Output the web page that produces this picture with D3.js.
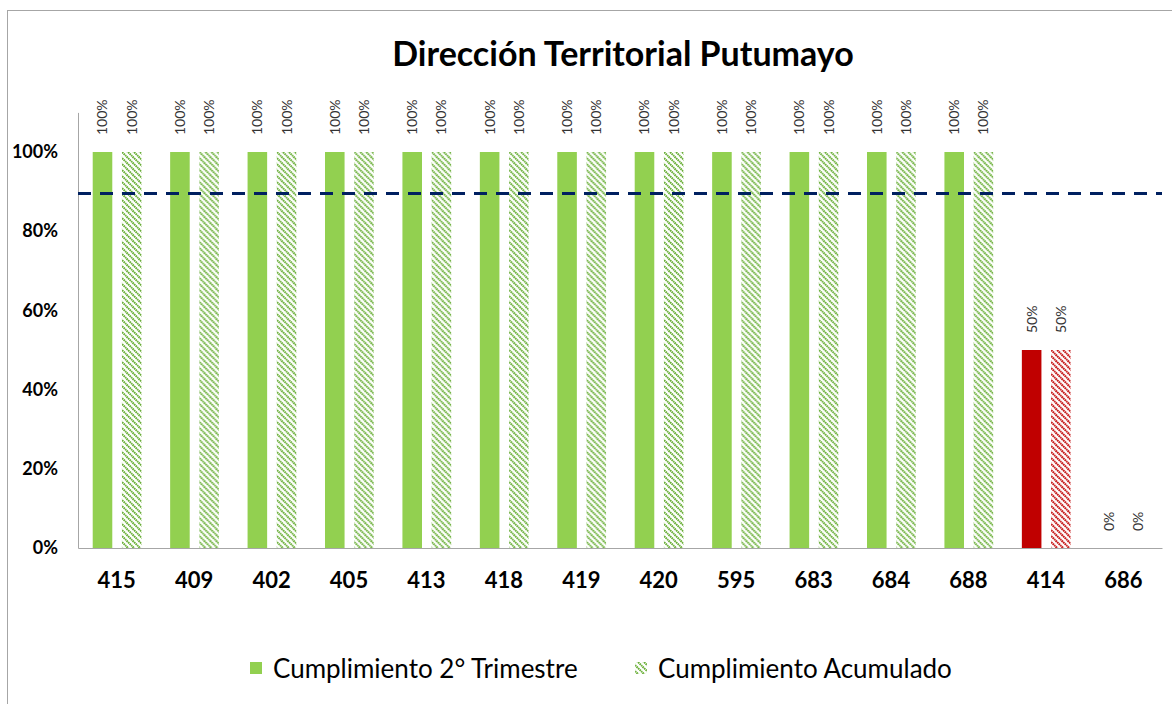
<!DOCTYPE html>
<html>
<head>
<meta charset="utf-8">
<script src="https://cdn.jsdelivr.net/npm/d3@7"></script>
<style>
  body { margin: 0; background: #fff; }
  text { font-family: Lato, "Open Sans", sans-serif; }
</style>
</head>
<body>
<svg width="1172" height="704"></svg>
<script>
var categories = ['415', '409', '402', '405', '413', '418', '419', '420', '595', '683', '684', '688', '414', '686']
var trimestre = [1, 1, 1, 1, 1, 1, 1, 1, 1, 1, 1, 1, 0.5, 0]
var acumulado = [1, 1, 1, 1, 1, 1, 1, 1, 1, 1, 1, 1, 0.5, 0]
var meta = 0.895
var yTicks = [0, 0.2, 0.4, 0.6, 0.8, 1]
var seriesNames = ['Cumplimiento 2° Trimestre', 'Cumplimiento Acumulado']

var svg = d3.select('svg')
var margin = { top: 111, left: 78, right: 10, bottom: 156 }

var green = '#92d050'
var greenHatch = '#66ad32'
var red = '#c00000'

// hatch patterns
var defs = svg.append('defs')
function hatch (id, color) {
  var p = defs.append('pattern')
    .attr('id', id)
    .attr('patternUnits', 'userSpaceOnUse')
    .attr('width', 6)
    .attr('height', 6)
  p.append('rect').attr('width', 6).attr('height', 6).attr('fill', '#fff')
  p.append('path')
    .attr('d', 'M-1,-1 L7,7 M-1,5 L1,7 M5,-1 L7,1')
    .attr('stroke', color)
    .attr('stroke-width', 2)
    .attr('stroke-dasharray', '1.6,0.6')
}
hatch('hatchGreen', greenHatch)
hatch('hatchRed', red)

// chart border
svg.append('rect')
  .attr('x', 7.5).attr('y', 10.5)
  .attr('width', 1200).attr('height', 720)
  .attr('fill', 'none')
  .attr('stroke', '#a6a6a6')
  .attr('stroke-width', 1)

svg.append('text')
  .attr('x', 623)
  .attr('y', 66)
  .attr('text-anchor', 'middle')
  .attr('font-size', 34)
  .attr('font-weight', 'bold')
  .attr('fill', '#000')
  .text('Dirección Territorial Putumayo')

var x = d3.scaleBand()
  .domain(categories)
  .range([margin.left, 1162])

var bw = x.bandwidth()
var x1 = d3.scaleBand()
  .domain([0, 1])
  .range([bw * 0.19, bw * 0.82])
  .paddingInner(0.33)

var y = d3.scaleLinear()
  .domain([0, 1.1])
  .range([548, 548 - 1.1 * 396])

// y axis
var yAxis = svg.append('g')
  .attr('transform', 'translate(' + margin.left + ',0)')
  .call(d3.axisLeft(y).tickValues(yTicks).tickFormat(d3.format('.0%')).tickSize(0).tickPadding(20))
yAxis.select('.domain').attr('stroke', '#a6a6a6')
yAxis.selectAll('text')
  .attr('font-size', 18)
  .attr('font-weight', 'bold')
  .attr('fill', '#000')
  .style('font-family', 'Lato, sans-serif')

var rows = categories.map(function (c, i) {
  return { cat: c, values: [trimestre[i], acumulado[i]] }
})

var groups = svg.append('g').selectAll('g')
  .data(rows)
  .join('g')
  .attr('transform', function (d) { return 'translate(' + x(d.cat) + ',0)' })

groups.selectAll('rect')
  .data(function (d) { return d.values.map(function (v, k) { return { v: v, k: k } }) })
  .join('rect')
  .attr('x', function (d) { return x1(d.k) })
  .attr('width', x1.bandwidth())
  .attr('y', function (d) { return y(d.v) })
  .attr('height', function (d) { return y(0) - y(d.v) })
  .attr('fill', function (d) {
    var ok = d.v >= meta
    if (d.k === 0) return ok ? green : red
    return ok ? 'url(#hatchGreen)' : 'url(#hatchRed)'
  })

groups.selectAll('text.lbl')
  .data(function (d) { return d.values.map(function (v, k) { return { v: v, k: k } }) })
  .join('text')
  .attr('class', 'lbl')
  .attr('transform', function (d) {
    return 'translate(' + (x1(d.k) + x1.bandwidth() / 2 + 5) + ',' + (y(d.v) - 17) + ') rotate(-90)'
  })
  .attr('font-size', 14)
  .attr('fill', '#333')
  .text(function (d) { return d3.format('.0%')(d.v) })

// x axis
var xAxis = svg.append('g')
  .attr('transform', 'translate(0,' + y(0) + ')')
  .call(d3.axisBottom(x).tickSize(0).tickPadding(24))
xAxis.select('.domain').attr('stroke', '#a6a6a6')
xAxis.selectAll('text')
  .attr('font-size', 22)
  .attr('font-weight', 'bold')
  .attr('fill', '#000')
  .style('font-family', 'Lato, sans-serif')

// meta line
svg.append('line')
  .attr('x1', margin.left)
  .attr('x2', 1162)
  .attr('y1', y(meta))
  .attr('y2', y(meta))
  .attr('stroke', '#002060')
  .attr('stroke-width', 3)
  .attr('stroke-dasharray', '13,9')

// legend
var legend = svg.append('g')
var lx = [250, 635]
legend.selectAll('rect')
  .data(seriesNames)
  .join('rect')
  .attr('x', function (d, i) { return lx[i] })
  .attr('y', 662)
  .attr('width', 12)
  .attr('height', 12)
  .attr('fill', function (d, i) { return i === 0 ? green : 'url(#hatchGreen)' })
legend.selectAll('text')
  .data(seriesNames)
  .join('text')
  .attr('x', function (d, i) { return lx[i] + 23 })
  .attr('y', 678)
  .attr('font-size', 26)
  .attr('fill', '#000')
  .text(function (d) { return d })
</script>
</body>
</html>
